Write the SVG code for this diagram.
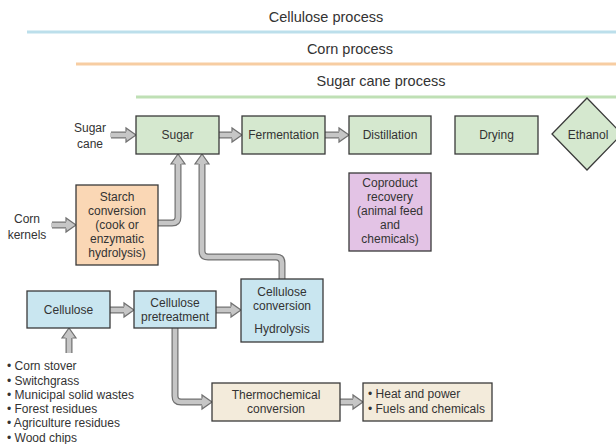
<svg xmlns="http://www.w3.org/2000/svg" width="616" height="444" viewBox="0 0 616 444">
<style>
text{font-family:"Liberation Sans",Arial,sans-serif;font-size:12px;fill:#333}
.t{text-anchor:middle}
.h{font-size:14.5px;text-anchor:middle}
.box{stroke:#3a3a3a;stroke-width:1.3}
.g{fill:#d5e8cf}.o{fill:#fad7b5}.p{fill:#e3c3e5}.b{fill:#c9e6f0}.y{fill:#f3ebdb}
.ao{fill:none;stroke:#707070;stroke-width:7;marker-end:url(#ah)}
.ai{fill:none;stroke:#c6c6c6;stroke-width:4.6}
</style>
<defs>
<marker id="ah" markerUnits="userSpaceOnUse" markerWidth="20" markerHeight="20" refX="0" refY="0" orient="auto" overflow="visible">
<path d="M0,-3.5 L0,-7 L10,0 L0,7 L0,3.5" fill="#c6c6c6" stroke="#707070" stroke-width="1.2" stroke-linejoin="miter"/>
</marker>
</defs>
<rect width="616" height="444" fill="#fff"/>
<g id="process-bands">
<text class="h" x="326" y="22">Cellulose process</text>
<line x1="27" y1="32" x2="616" y2="32" stroke="#bcdfeb" stroke-width="3"/>
<text class="h" x="350" y="54">Corn process</text>
<line x1="76" y1="64" x2="616" y2="64" stroke="#f7cda2" stroke-width="3"/>
<text class="h" x="381" y="86">Sugar cane process</text>
<line x1="136" y1="97" x2="616" y2="97" stroke="#bfe0b5" stroke-width="3"/>
</g>
<g id="connectors">
<path class="ao" d="M111,135 H126"/><path class="ai" d="M110,135 H126"/>
<path class="ao" d="M219,135 H232"/><path class="ai" d="M218,135 H232"/>
<path class="ao" d="M325,135 H339"/><path class="ai" d="M324,135 H339"/>
<path class="ao" d="M52,225 H66"/><path class="ai" d="M51,225 H66"/>
<path class="ao" d="M158,223 H172 Q178,223 178,217 V164"/><path class="ai" d="M157,223 H172 Q178,223 178,217 V164"/>
<path class="ao" d="M282,279.5 V263 Q282,257 276,257 H208 Q202,257 202,251 V164"/><path class="ai" d="M282,280.5 V263 Q282,257 276,257 H208 Q202,257 202,251 V164"/>
<path class="ao" d="M110,310 H124"/><path class="ai" d="M109,310 H124"/>
<path class="ao" d="M216,310 H231"/><path class="ai" d="M215,310 H231"/>
<path class="ao" d="M69,353 V338"/><path class="ai" d="M69,353 V338"/>
<path class="ao" d="M175,328 V396 Q175,402 181,402 H202"/><path class="ai" d="M175,327 V396 Q175,402 181,402 H202"/>
<path class="ao" d="M340,402 H353"/><path class="ai" d="M339,402 H353"/>
</g>
<g id="sugar-cane-label">
<text class="t" x="90" y="132">Sugar</text>
<text class="t" x="90" y="148">cane</text>
</g>
<g id="corn-kernels-label">
<text class="t" x="27" y="223">Corn</text>
<text class="t" x="27" y="239">kernels</text>
</g>
<g id="sugar"><rect class="box g" x="136" y="116" width="83" height="38"/><text class="t" x="177.5" y="139">Sugar</text></g>
<g id="fermentation"><rect class="box g" x="242" y="116" width="83" height="38"/><text class="t" x="283.5" y="139">Fermentation</text></g>
<g id="distillation"><rect class="box g" x="349" y="116" width="82" height="38"/><text class="t" x="390" y="139">Distillation</text></g>
<g id="drying"><rect class="box g" x="455" y="116" width="83" height="38"/><text class="t" x="496.5" y="139">Drying</text></g>
<g id="ethanol"><polygon class="box g" points="587,98 622,134 587,170 552,134"/><text class="t" x="588" y="139">Ethanol</text></g>
<g id="starch-conversion"><rect class="box o" x="76" y="185" width="82" height="80"/>
<text class="t" x="117" y="201">Starch</text><text class="t" x="117" y="215">conversion</text><text class="t" x="117" y="229">(cook or</text><text class="t" x="117" y="243">enzymatic</text><text class="t" x="117" y="257">hydrolysis)</text></g>
<g id="coproduct-recovery"><rect class="box p" x="349" y="173" width="82" height="78"/>
<text class="t" x="390" y="187">Coproduct</text><text class="t" x="390" y="201">recovery</text><text class="t" x="390" y="215">(animal feed</text><text class="t" x="390" y="229">and</text><text class="t" x="390" y="243">chemicals)</text></g>
<g id="cellulose"><rect class="box b" x="27" y="291" width="83" height="37"/><text class="t" x="68.5" y="314">Cellulose</text></g>
<g id="cellulose-pretreatment"><rect class="box b" x="134" y="291" width="82" height="37"/><text class="t" x="175" y="307">Cellulose</text><text class="t" x="175" y="321">pretreatment</text></g>
<g id="cellulose-conversion"><rect class="box b" x="241" y="279" width="82" height="63"/><text class="t" x="282" y="296">Cellulose</text><text class="t" x="282" y="310">conversion</text><text class="t" x="282" y="333">Hydrolysis</text></g>
<g id="feedstocks">
<text x="7" y="370">• Corn stover</text>
<text x="7" y="385">• Switchgrass</text>
<text x="7" y="399">• Municipal solid wastes</text>
<text x="7" y="413">• Forest residues</text>
<text x="7" y="427">• Agriculture residues</text>
<text x="7" y="442">• Wood chips</text>
</g>
<g id="thermochemical-conversion"><rect class="box y" x="212" y="383" width="128" height="38"/><text class="t" x="276" y="399">Thermochemical</text><text class="t" x="276" y="413">conversion</text></g>
<g id="heat-fuels"><rect class="box y" x="363" y="383" width="129" height="38"/><text x="368" y="398">• Heat and power</text><text x="368" y="413">• Fuels and chemicals</text></g>
</svg>
